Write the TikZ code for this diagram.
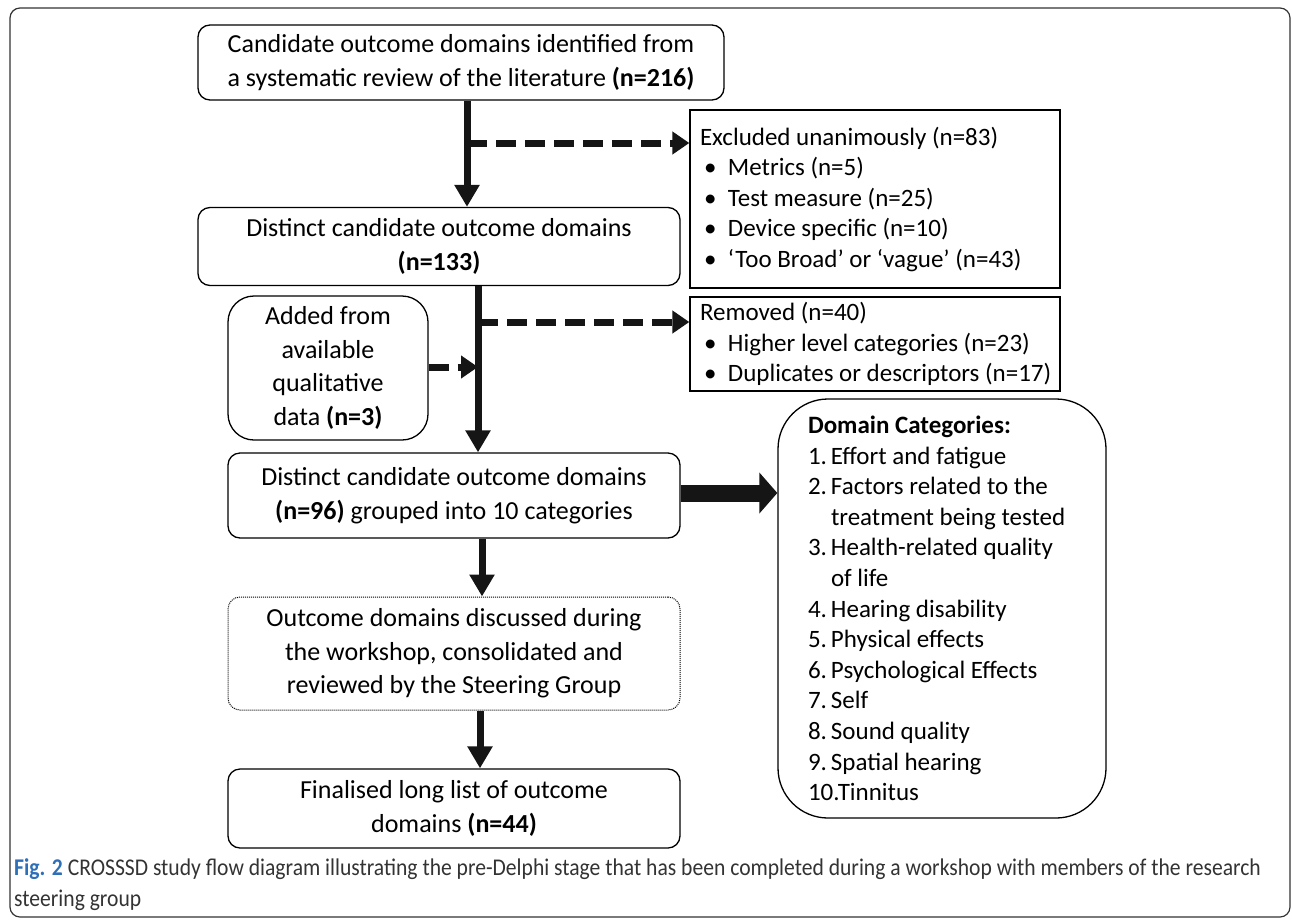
\documentclass[tikz,border=0pt]{standalone}
\usepackage{fontspec}
\setmainfont{Carlito}
\newfontfamily\capfont[FakeStretch=0.90]{Carlito}
\usetikzlibrary{arrows.meta}
\definecolor{figblue}{HTML}{2E6FB7}
\definecolor{captxt}{HTML}{333333}
\definecolor{arr}{HTML}{151515}
\newcommand\fsmain{\fontsize{26}{33.5}\selectfont}
\newcommand\fssq{\fontsize{25}{30.5}\selectfont}
\newcommand\fsdom{\fontsize{25}{30.6}\selectfont}
\newcommand\fscap{\fontsize{24}{31}\selectfont}
\newcommand\bul[1]{\mbox{\makebox[28pt][l]{\hspace*{4pt}\textbullet}#1}}
\newcommand\itm[1]{\makebox[23pt][l]{#1}}
\begin{document}
\begin{tikzpicture}[x=1pt,y=-1pt,
  box/.style={draw=black, line width=1.3pt, rounded corners=12pt, align=center, inner sep=0pt, font=\fsmain},
  sqbox/.style={draw=black, line width=1.3pt, align=flush left, text width=350, inner xsep=10pt, inner ysep=0pt, font=\fssq},
  dotbox/.style={box, dash pattern=on 1pt off 1pt, line width=1pt},
  varrow/.style={draw=arr, line width=7pt, -{Triangle[length=22pt,width=24pt]}},
  darrow/.style={draw=arr, line width=7pt, dash pattern=on 20pt off 9pt, -{Triangle[length=17pt,width=22pt]}},
  tarrow/.style={draw=arr, line width=17pt, -{Triangle[length=18pt,width=40pt]}}]
\useasboundingbox (0,0) rectangle (1292,919);
\draw[line width=1.2pt, rounded corners=10pt, draw=black!80] (10,8) rectangle (1290,917);

\node[box, minimum width=526, minimum height=75] (b1) at (461,62.5)
  {Candidate outcome domains identified from\\a systematic review of the literature \textbf{(n=216)}};
\node[box, minimum width=482, minimum height=78] (b2) at (439,246.5)
  {Distinct candidate outcome domains\\\textbf{(n=133)}};
\node[box, rounded corners=26pt, minimum width=200, minimum height=144] (add) at (328,368)
  {Added from\\available\\qualitative\\data \textbf{(n=3)}};
\node[box, minimum width=452, minimum height=85] (b3) at (454,495.5)
  {Distinct candidate outcome domains\\\textbf{(n=96)} grouped into 10 categories};
\node[dotbox, minimum width=452, minimum height=113] (b4) at (454,653.5)
  {Outcome domains discussed during\\the workshop, consolidated and\\reviewed by the Steering Group};
\node[box, minimum width=452, minimum height=79] (b5) at (454,808.5)
  {Finalised long list of outcome\\domains \textbf{(n=44)}};

\node[sqbox, minimum height=178] (exc) at (875,199)
  {Excluded unanimously (n=83)\\
   \bul{Metrics (n=5)}\\
   \bul{Test measure (n=25)}\\
   \bul{Device specific (n=10)}\\
   \bul{`Too Broad' or `vague' (n=43)}};
\node[sqbox, minimum height=94] (rem) at (875,344)
  {Removed (n=40)\\
   \bul{Higher level categories (n=23)}\\
   \bul{Duplicates or descriptors (n=17)}};

\node[draw=black, line width=1.3pt, rounded corners=50pt, minimum width=328, minimum height=419,
  text width=268, inner xsep=30pt, inner ysep=0pt, align=flush left, font=\fsdom] (dom) at (942,608.5)
  {\textbf{Domain Categories:}\\
   \itm{1.}Effort and fatigue\\
   \itm{2.}Factors related to the\\
   \itm{}treatment being tested\\
   \itm{3.}Health-related quality\\
   \itm{}of life\\
   \itm{4.}Hearing disability\\
   \itm{5.}Physical effects\\
   \itm{6.}Psychological Effects\\
   \itm{7.}Self\\
   \itm{8.}Sound quality\\
   \itm{9.}Spatial hearing\\
   10.Tinnitus};

\coordinate (v1) at (467,0);
\coordinate (j1) at (467,143);
\coordinate (v2) at (478,0);
\coordinate (j2) at (478,322);
\coordinate (j3) at (478,367);
\coordinate (j4) at (0,493);
\coordinate (v3) at (482,0);
\coordinate (v4) at (480,0);

\draw[varrow] (v1 |- b1.south) -- (v1 |- b2.north);
\draw[darrow] (j1) -- (j1 -| exc.west);
\draw[varrow] (v2 |- b2.south) -- (v2 |- b3.north);
\draw[darrow] (j2) -- (j2 -| rem.west);
\draw[darrow] (j3 -| add.east) -- (j3);
\draw[tarrow] (j4 -| b3.east) -- (j4 -| dom.west);
\draw[varrow] (v3 |- b3.south) -- (v3 |- b4.north);
\draw[varrow] (v4 |- b4.south) -- (v4 |- b5.north);

\node[anchor=west, inner sep=0pt, font=\fscap\capfont, text=captxt] (cap1) at (14,869)
  {\textcolor{figblue}{\textbf{Fig. 2}} CROSSSD study flow diagram illustrating the pre-Delphi stage that has been completed during a workshop with members of the research};
\node[anchor=west, inner sep=0pt, font=\fscap\capfont, text=captxt] (cap2) at (14,900)
  {steering group};
\end{tikzpicture}
\end{document}
